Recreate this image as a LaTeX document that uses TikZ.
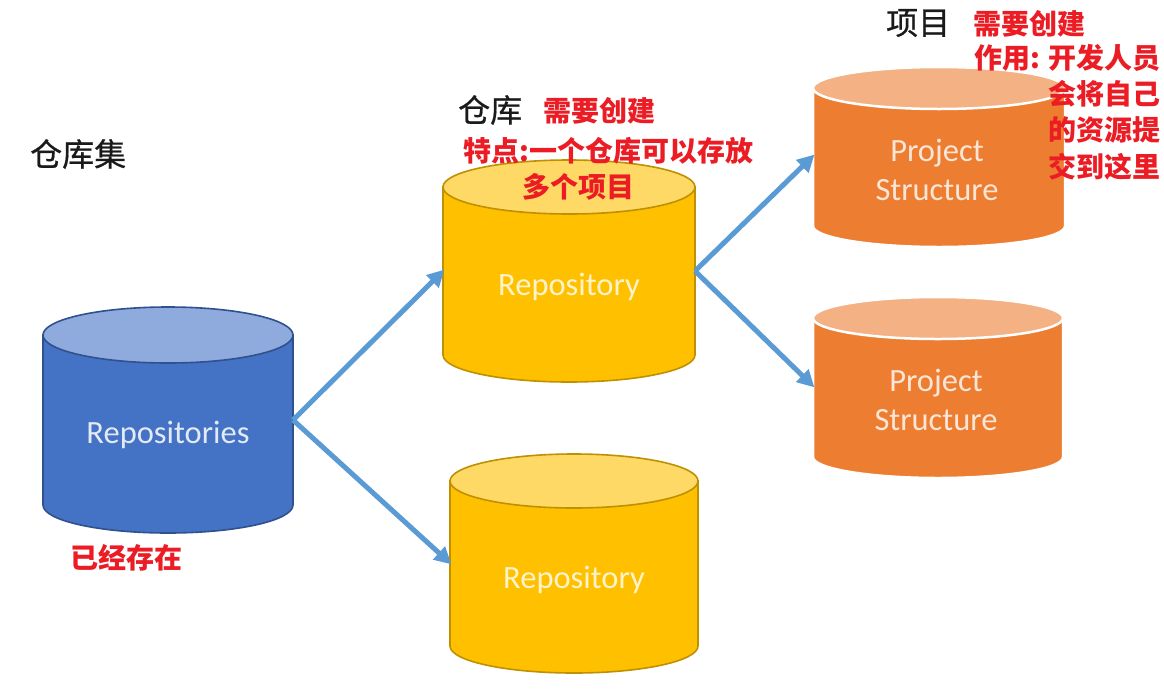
\documentclass[tikz,border=0pt]{standalone}
\usepackage{fontspec}
\setmainfont{Carlito}
\newfontfamily\cjk{Noto Sans CJK SC}
\newfontfamily\cjkm[FakeBold=0.6]{Noto Sans CJK SC}
\usetikzlibrary{arrows.meta}
\definecolor{bluebody}{HTML}{4472C4}
\definecolor{bluetop}{HTML}{8FAADC}
\definecolor{blueline}{HTML}{2F528F}
\definecolor{yelbody}{HTML}{FFC000}
\definecolor{yeltop}{HTML}{FFD966}
\definecolor{yelline}{HTML}{BF9000}
\definecolor{orbody}{HTML}{ED7D31}
\definecolor{ortop}{HTML}{F4B183}
\definecolor{arrowblue}{HTML}{5B9BD5}
\definecolor{notered}{RGB}{235,28,36}
\definecolor{labelgray}{HTML}{1A1A1A}
% cx, ytop, ybottom, rx, ry, body, top, line, line width
\newcommand\drawcyl[9]{%
  \filldraw[draw=#8,fill=#6,line width=#9] ({#1-#4},#2) -- ({#1-#4},#3)
     arc[start angle=180,end angle=0,x radius=#4,y radius=#5] -- ({#1+#4},#2) -- cycle;
  \filldraw[draw=#8,fill=#7,line width=#9] (#1,#2) ellipse[x radius=#4,y radius=#5];
}
\tikzset{
  hook/.style={inner sep=0pt,outer sep=0pt},
  cyltext/.style={inner sep=0pt,font=\fontsize{32.5}{39}\selectfont,align=center},
  red note/.style={inner sep=0pt,text=notered,font=\cjk\bfseries\fontsize{28}{36.3}\selectfont},
  black label/.style={inner sep=0pt,text=labelgray,font=\cjkm\fontsize{32}{38}\selectfont},
  flow/.style={draw=arrowblue,line width=5pt,-{Triangle[length=17pt,width=17pt]},shorten >=-2pt},
}
\begin{document}
\begin{tikzpicture}[x=1pt,y=-1pt]
\useasboundingbox[fill=white] (0,0) rectangle (1164,691);

% cylinders
\drawcyl{168}{335}{505}{125}{28}{bluebody}{bluetop}{blueline}{1.6pt}
\node[hook,minimum width=250pt,minimum height=170pt] (all) at (168,420) {};
\node[cyltext,text=white!85!bluebody] (alltext) at (168,435) {Repositories};

\drawcyl{569}{187}{355}{126}{27}{yelbody}{yeltop}{yelline}{1.6pt}
\node[hook,minimum width=252pt,minimum height=168pt] (repoA) at (569,271) {};
\node[cyltext,text=white!80!yelbody] (repoAtext) at (569,287) {Repository};

\drawcyl{574}{481}{646}{124}{27}{yelbody}{yeltop}{yelline}{1.6pt}
\node[hook,minimum width=248pt,minimum height=165pt] (repoB) at (574,563) {};
\node[cyltext,text=white!80!yelbody] (repoBtext) at (574,580) {Repository};

\drawcyl{939}{88}{226}{126}{21}{orbody}{ortop}{white}{2.5pt}
\node[hook,minimum width=252pt,minimum height=138pt] (projA) at (939,156) {};
\node[cyltext,text=white!80!orbody] (projAtext) at (937,170) {Project\\Structure};

\drawcyl{938}{318}{457}{125}{21}{orbody}{ortop}{white}{2.5pt}
\node[hook,minimum width=250pt,minimum height=139pt] (projB) at (938,386) {};
\node[cyltext,text=white!80!orbody] (projBtext) at (936,400) {Project\\Structure};

% connectors
\draw[flow] (all.east) -- (repoA.west);
\draw[flow] (all.east) -- (repoB.west);
\draw[flow] (repoA.east) -- (projA.west);
\draw[flow] (repoA.east) -- (projB.west);

% black labels
\node[black label,anchor=west] (lblset) at (30,154) {仓库集};
\node[black label,anchor=west] (lblrepo) at (458,110) {仓库};
\node[black label,anchor=west] (lblproj) at (886,23) {项目};

% red notes
\node[red note,anchor=west] (exist) at (70,558) {已经存在};
\node[red note,anchor=west] (repoNeed) at (543,111) {需要创建};
\node[red note,anchor=west] (repoFeat) at (463,151) {特点:一个仓库可以存放};
\node[red note,anchor=west] (repoFeat2) at (522,187) {多个项目};
\node[red note,anchor=west] (projNeed) at (973,24) {需要创建};
\node[red note,anchor=north east,align=right] (projUse) at (1161,44) {作用: 开发人员\\会将自己\\的资源提\\交到这里};
\end{tikzpicture}
\end{document}
